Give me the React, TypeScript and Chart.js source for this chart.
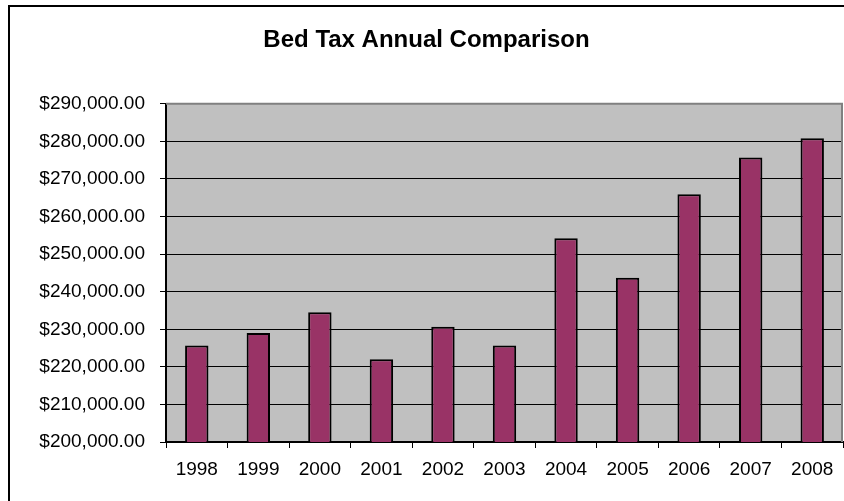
import React, { useEffect, useRef } from "react";
import { Chart, registerables } from "chart.js";

Chart.register(...registerables);

const years: string[] = ["1998", "1999", "2000", "2001", "2002", "2003", "2004", "2005", "2006", "2007", "2008"];
const bedTax: number[] = [225700, 229000, 234500, 222000, 230700, 225700, 254200, 243700, 265900, 275700, 280800];
const yMin = 200000;
const yMax = 290000;
const yStep = 10000;
const titleText = "Bed Tax Annual Comparison";

const FONT = "'Liberation Sans', Arial, Helvetica, sans-serif";

const fmt = (v: number) =>
  "$" + v.toLocaleString("en-US", { minimumFractionDigits: 2, maximumFractionDigits: 2 });

const plotBg = {
  id: "plotBg",
  beforeDraw(chart: any) {
    const { ctx, chartArea } = chart;
    ctx.save();
    ctx.fillStyle = "#C0C0C0";
    ctx.fillRect(chartArea.left, chartArea.top, chartArea.right - chartArea.left, chartArea.bottom - chartArea.top);
    ctx.restore();
  },
  beforeDatasetsDraw(chart: any) {
    const { ctx, chartArea } = chart;
    ctx.save();
    ctx.strokeStyle = "#808080";
    ctx.lineWidth = 2;
    ctx.beginPath();
    ctx.moveTo(chartArea.left, chartArea.top);
    ctx.lineTo(chartArea.right - 1, chartArea.top);
    ctx.lineTo(chartArea.right - 1, chartArea.bottom);
    ctx.stroke();
    ctx.restore();
  },
};

export default function App() {
  const ref = useRef<HTMLCanvasElement | null>(null);

  useEffect(() => {
    if (!ref.current) return;
    const chart = new Chart(ref.current, {
      type: "bar",
      data: {
        labels: years,
        datasets: [
          {
            data: bedTax,
            backgroundColor: "#993366",
            borderColor: "#000000",
            borderWidth: 2,
            categoryPercentage: 1,
            barPercentage: 0.38,
          },
        ],
      },
      options: {
        responsive: false,
        animation: false,
        devicePixelRatio: 1,
        layout: { padding: { left: 0, right: 1, top: 0, bottom: 19 } },
        plugins: {
          legend: { display: false },
          tooltip: { enabled: false },
          title: {
            display: true,
            text: titleText,
            color: "#000",
            font: { family: FONT, size: 24, weight: "bold" },
            padding: { top: 19, bottom: 49 },
          },
        },
        scales: {
          x: {
            grid: { offset: true, drawOnChartArea: false, drawTicks: true, tickLength: 6, color: "#000" },
            border: { display: true, color: "#000", width: 2 },
            ticks: { color: "#000", font: { family: FONT, size: 19 }, padding: 10, maxRotation: 0 },
            afterFit(scale: any) {
              scale.height = 40;
            },
          },
          y: {
            min: yMin,
            max: yMax,
            grid: { color: "#000", lineWidth: 1, tickLength: 6 },
            border: { display: true, color: "#000", width: 2 },
            ticks: {
              stepSize: yStep,
              color: "#000",
              font: { family: FONT, size: 19 },
              padding: 15,
              callback: (v: any) => fmt(Number(v)),
            },
            afterFit(scale: any) {
              scale.width = 156;
            },
          },
        },
      },
      plugins: [plotBg],
    });
    return () => chart.destroy();
  }, []);

  return (
    <div
      style={{
        position: "fixed",
        left: 8,
        top: 5,
        borderLeft: "2px solid #000",
        borderTop: "2px solid #000",
        background: "#fff",
        lineHeight: 0,
      }}
    >
      <canvas ref={ref} width={834} height={494} style={{ display: "block", width: 834, height: 494 }} />
    </div>
  );
}
